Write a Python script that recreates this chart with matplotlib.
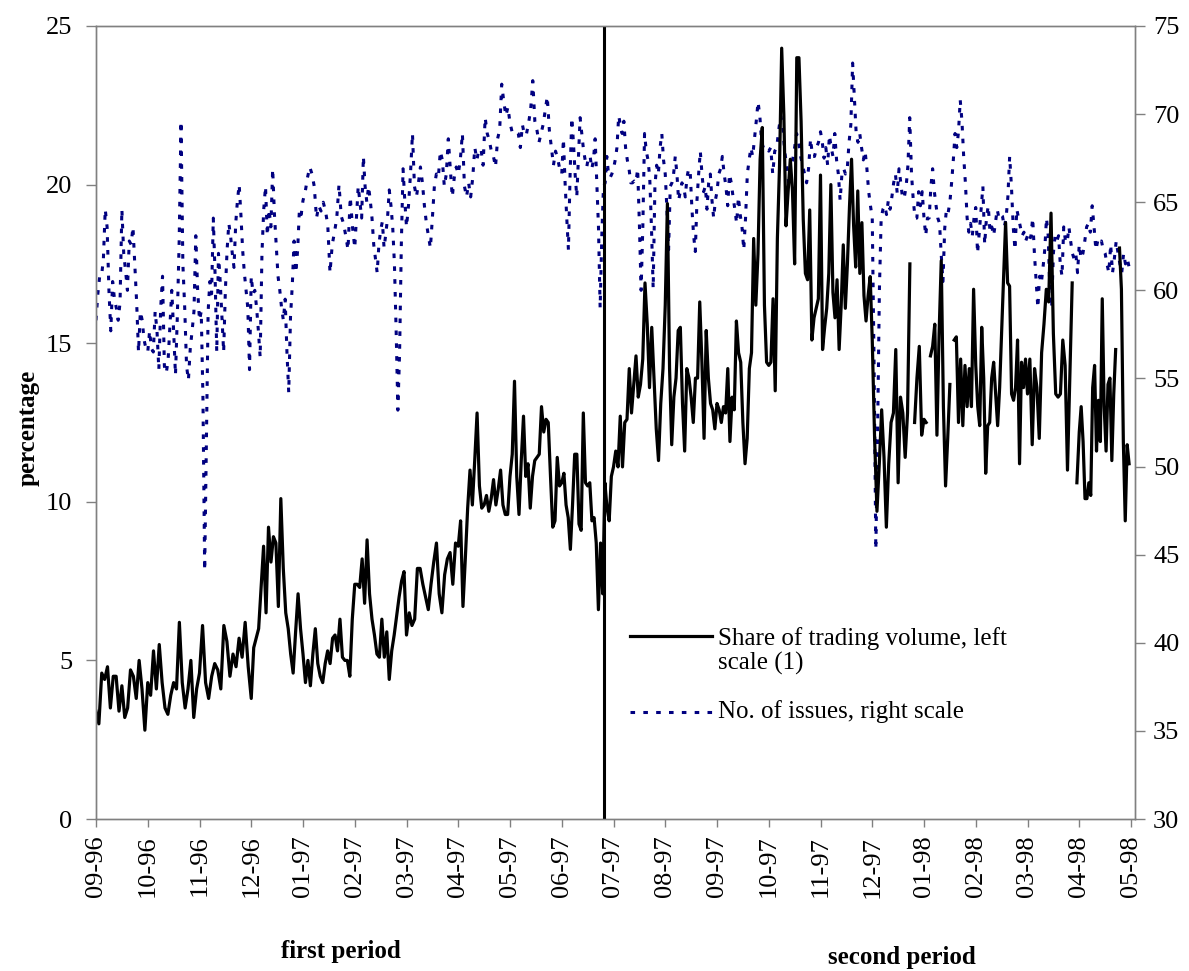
import numpy as np
import matplotlib
matplotlib.use('Agg')
import matplotlib.pyplot as plt
from matplotlib.lines import Line2D

nan = float('nan')

month_labels = ['09-96', '10-96', '11-96', '12-96', '01-97', '02-97', '03-97',
                '04-97', '05-97', '06-97', '07-97', '08-97', '09-97', '10-97',
                '11-97', '12-97', '01-98', '02-98', '03-98', '04-98', '05-98']

# share of trading volume (%, left scale), one list of observations per month
share_by_month = [
    [3.4, 3.0, 4.6, 4.4, 4.8, 3.5, 4.5, 4.5, 3.4, 4.2, 3.2, 3.5, 4.7, 4.5, 3.8, 5.0, 4.1, 2.8],
    [4.3, 3.9, 5.3, 4.1, 5.5, 4.3, 3.5, 3.3, 3.9, 4.3, 4.1, 6.2, 4.3, 3.5, 4.1, 5.0, 3.2, 4.1],
    [4.6, 6.1, 4.3, 3.8, 4.5, 4.9, 4.7, 4.1, 6.1, 5.6, 4.5, 5.2, 4.8, 5.7, 5.1, 6.2, 4.8],
    [3.8, 5.4, 5.7, 6.0, 7.3, 8.6, 6.5, 9.2, 8.1, 8.9, 8.7, 6.7, 10.1, 7.9, 6.5, 6.0, 5.2,
     4.6, 5.9, 7.1, 6.0],
    [5.2, 4.3, 5.0, 4.2, 5.2, 6.0, 4.9, 4.5, 4.3, 4.9, 5.3, 4.9, 5.7, 5.8, 5.3, 6.3, 5.1,
     5.0, 5.0, 4.5, 6.3],
    [7.4, 7.4, 7.3, 8.2, 6.8, 8.8, 7.1, 6.3, 5.8, 5.2, 5.1, 6.3, 5.1, 5.9, 4.4, 5.3, 5.8,
     6.4, 7.0, 7.5, 7.8],
    [5.8, 6.5, 6.1, 6.3, 7.9, 7.9, 7.4, 7.0, 6.6, 7.4, 8.1, 8.7, 7.1, 6.5, 7.7, 8.2, 8.4,
     7.4, 8.7],
    [8.6, 9.4, 6.7, 8.2, 9.8, 11.0, 9.9, 11.3, 12.8, 10.5, 9.8, 9.9, 10.2, 9.7, 10.1, 10.7,
     9.9, 10.4, 11.0, 9.9, 9.6, 9.6],
    [10.8, 11.5, 13.8, 10.8, 9.6, 11.3, 12.7, 10.8, 11.2, 9.8, 10.8, 11.3, 11.4, 11.5, 13.0,
     12.2, 12.6, 12.5, 10.8, 9.2, 9.4, 11.4, 10.5],
    [10.6, 10.9, 9.9, 9.5, 8.5, 9.9, 11.5, 11.5, 9.3, 9.1, 12.8, 10.6, 10.5, 10.6, 9.4, 9.5,
     8.7, 6.6, 8.7, 7.1, 10.6, 9.8, 9.4, 10.8],
    [11.1, 11.6, 11.1, 12.7, 11.1, 12.5, 12.6, 14.2, 12.8, 13.7, 14.6, 13.3, 13.7, 14.5, 16.9,
     15.6, 13.6, 15.5, 13.9, 12.3, 11.3, 13.1, 14.2],
    [16.2, 19.4, 14.2, 11.8, 13.3, 13.9, 15.4, 15.5, 13.1, 11.6, 14.2, 13.9, 13.3, 12.5, 13.9,
     13.9, 16.3, 14.4, 12.0, 15.4, 13.9, 13.1, 12.9, 12.3],
    [13.1, 12.9, 12.5, 13.0, 12.8, 14.2, 11.9, 13.3, 12.9, 15.7, 14.7, 14.4, 12.5, 11.2, 12.0,
     14.2, 14.7, 18.3, 16.2, 17.8, 20.8, 21.8, 16.2, 14.4],
    [14.3, 14.4, 16.4, 13.5, 18.3, 20.6, 24.3, 22.2, 18.7, 19.8, 20.8, 19.8, 17.5, 24.0, 24.0,
     22.0, 18.9, 17.2, 17.0, 19.2, 15.1, 15.8, 16.1, 16.4],
    [20.3, 14.8, 15.5, 16.1, 17.2, 20.0, 16.6, 15.8, 17.0, 14.8, 16.2, 18.1, 16.1, 17.5, 19.3,
     20.8, 18.7, 17.4, 19.8, 17.2, 18.8, 16.5, 15.7, 16.5, 17.1],
    [15.1, 12.0, 9.7, 11.2, 12.9, 11.4, 9.2, 11.2, 12.5, 12.8, 14.8, 10.6, 13.3, 12.8, 11.4,
     12.8, 17.5, nan, 12.5, 13.9, 14.9, 12.1],
    [12.6, 12.5, nan, 14.6, 14.9, 15.6, 12.1, 15.3, 17.6, 13.0, 10.5, 12.0, 13.7, nan, 15.1,
     15.2, 12.5, 14.5, 12.4, 14.3, 13.0, 14.2, 13.0, 16.7],
    [14.3, 13.0, 12.4, 15.5, 13.9, 10.9, 12.4, 12.5, 13.9, 14.4, 13.4, 12.4, 13.6, 15.4, 17.1,
     18.8, 16.9, 16.8, 13.4, 13.2, 13.6, 15.1, 11.2, 14.4, 13.6, 14.5],
    [13.4, 14.5, 11.8, 14.2, 13.6, 12.0, 14.7, 15.6, 16.7, 16.3, 19.1, 15.3, 13.4, 13.3, 13.4,
     15.1, 14.3, 11.0, 14.0, 16.9, nan, 10.6],
    [12.2, 13.0, 11.9, 10.1, 10.1, 10.6, 10.2, 13.6, 14.3, 11.6, 13.2, 11.9, 16.4, 13.0, 11.6,
     13.7, 13.9, 11.3, 13.4, 14.8, nan, 18.0, 16.7, 11.9, 9.4, 11.8, 11.2],
]

# number of issues (right scale), one list of observations per month
issues_by_month = [
    [58.3, 59.8, 60.8, 60.8, 61.8, 64.6, 63.6, 60.0, 57.7, 60.5, 59.5, 59.0, 58.3, 59.3, 64.6,
     62.1, 61.1, 60.0, 62.8, 62.6, 63.6, 61.5, 59.3, 56.5, 58.8, 58.3, 57.2, 56.7],
    [56.5, 57.7, 56.7, 56.5, 58.8, 57.7, 55.5, 59.0, 60.8, 55.7, 55.3, 56.0, 58.0, 60.0, 57.7,
     55.2, 58.5, 62.8, 69.6, 61.5, 59.0, 55.7, 54.9, 56.7, 57.7, 58.8, 63.1, 60.0],
    [58.3, 58.8, 53.9, 44.1, 51.4, 58.8, 60.5, 59.8, 64.1, 61.0, 56.5, 62.1, 60.5, 58.5, 56.5,
     60.0, 62.3, 63.8, 63.1, 62.1, 61.3, 63.8, 65.1, 66.0, 64.3, 62.3, 61.0, 60.0, 59.0, 55.5],
    [60.8, 59.8, 60.0, 59.0, 57.7, 56.2, 62.1, 64.6, 65.9, 63.1, 64.6, 63.6, 66.9, 64.3, 62.6,
     60.8, 60.0, 59.0, 58.3, 59.5, 56.5, 54.2, 58.5, 60.3, 62.8, 61.0, 62.3, 64.6, 64.3],
    [65.1, 65.6, 66.4, 67.0, 66.6, 65.9, 64.1, 64.8, 64.5, 65.0, 64.5, 63.7, 61.0, 62.6, 63.3,
     64.1, 66.0, 64.2, 63.8, 63.1, 62.3, 65.3, 63.6],
    [62.4, 64.2, 65.9, 65.0, 64.1, 67.6, 65.9, 65.0, 65.9, 65.1, 64.1, 62.6, 61.8, 61.0, 62.6,
     63.4, 63.9, 62.4, 63.2, 64.1, 65.7, 64.8, 63.6, 61.5, 57.7, 53.2, 56.5, 62.6, 66.9, 65.1],
    [63.6, 64.8, 66.6, 68.9, 65.9, 65.3, 66.1, 67.0, 66.1, 64.8, 63.8, 63.1, 62.4, 64.1, 65.9,
     66.6, 66.4, 67.9, 67.4, 65.9, 66.6, 68.6, 66.9, 65.3, 66.4, 67.0],
    [66.6, 67.4, 68.9, 65.9, 65.3, 66.1, 65.3, 66.4, 68.1, 67.4, 68.0, 68.0, 67.1, 69.8, 68.9,
     68.5, 67.9, 67.6, 67.0, 68.6, 69.1, 71.7, 70.7, 69.9, 70.4],
    [69.5, 69.0, 68.9, 69.0, 68.9, 68.1, 69.4, 68.8, 68.9, 69.5, 70.3, 71.9, 69.6, 69.1, 68.4,
     68.9, 69.4, 70.2, 71.0, 69.1, 68.1, 67.1, 67.9, 67.5, 66.9],
    [66.6, 68.6, 66.1, 64.1, 62.3, 66.6, 69.8, 68.4, 66.6, 65.3, 67.6, 69.8, 68.9, 68.0, 67.4,
     67.0, 67.6, 67.6, 66.9, 67.4, 68.6, 66.1, 63.6, 59.0, 63.1, 65.9, 66.1, 67.6, 66.6, 66.4,
     66.6],
    [66.9, 67.4, 68.1, 69.9, 69.4, 68.9, 69.6, 68.1, 67.4, 66.9, 66.1, 66.1, 66.2, 66.1, 66.9,
     63.8, 60.0, 63.6, 68.9, 67.9, 67.4, 66.4, 63.6, 60.1, 65.9, 67.1, 66.6, 68.1, 68.9, 67.4],
    [66.6, 64.6, 62.3, 65.9, 66.1, 66.6, 67.6, 66.6, 65.1, 65.6, 66.1, 65.9, 65.3, 66.4, 66.9,
     66.6, 64.6, 63.1, 62.2, 65.1, 66.6, 67.9, 66.6, 65.6, 65.9, 64.6, 66.1, 66.6, 65.1, 64.1,
     65.1],
    [65.6, 66.6, 66.9, 67.6, 66.6, 65.9, 64.8, 66.6, 66.1, 65.3, 64.6, 63.8, 65.3, 64.3, 63.6,
     62.3, 64.1, 66.6, 67.4, 68.1, 67.6, 68.6, 69.6, 70.7, 69.9, 68.4, 68.1, 67.9, 68.0],
    [67.9, 68.1, 66.6, 67.9, 68.1, 69.1, 69.9, 69.4, 67.9, 67.1, 66.1, 66.9, 67.4, 68.1, 68.9,
     68.4, 67.6, 67.1, 66.6, 66.1, 66.9, 68.6, 67.6, 67.6, 68.1, 68.4],
    [69.0, 68.4, 67.5, 68.1, 67.1, 68.8, 68.1, 67.6, 68.9, 67.4, 66.6, 65.1, 66.6, 66.9, 66.6,
     66.9, 68.4, 69.4, 72.9, 70.9, 68.9, 68.4, 68.9, 68.1, 67.4, 67.9, 66.9, 65.6, 64.8],
    [64.1, 56.0, 45.3, 52.0, 60.0, 64.1, 64.6, 64.8, 64.3, 65.1, 64.6, 65.3, 66.1, 66.6, 65.5,
     66.9, 66.1, 65.2, 65.3, 65.9, 67.1, 69.8, 66.6, 65.1, 64.1, 64.1, 65.6, 64.8, 65.6],
    [64.1, 63.1, 64.1, 64.1, 65.9, 66.9, 65.6, 64.8, 64.1, 63.8, 62.0, 60.5, 63.5, 64.6, 64.4,
     65.0, 66.1, 67.4, 68.9, 68.1, 69.0, 70.8, 69.6, 67.6, 66.1, 64.1, 63.3, 63.8, 63.1, 64.1],
    [64.7, 62.1, 63.3, 64.6, 65.9, 62.6, 64.1, 64.8, 63.3, 63.6, 63.1, 63.8, 64.6, 64.1, 64.3,
     64.2, 63.6, 64.1, 65.3, 67.6, 65.9, 63.6, 62.3, 64.6, 64.1, 63.6, 63.1, 63.3, 62.8],
    [63.1, 62.8, 63.1, 64.1, 62.1, 60.5, 59.0, 60.8, 60.4, 61.3, 62.3, 64.1, 63.1, 59.8, 59.0,
     62.1, 63.1, 62.8, 63.1, 61.5, 60.8, 63.6, 62.8, 62.7, 63.6, 62.8, 62.1, 61.8, 62.1, 61.0],
    [62.6, 61.8, 62.1, 62.8, 63.6, 63.8, 63.3, 64.8, 63.6, 62.3, 62.8, 62.6, 62.8, 62.3, 62.1,
     61.5, 61.0, 62.6, 61.0, 61.8, 62.8, 62.1, 61.5, 61.0, 62.1, 61.5, 61.8, 61.3],
]

split_month = 9.82  # end of first period, late June 1997


def by_month(groups):
    # observations are spread evenly inside their month
    x, y = [], []
    for m, vals in enumerate(groups):
        x.extend(m + np.arange(len(vals)) / len(vals))
        y.extend(vals)
    return np.array(x), np.array(y)


x_share, share = by_month(share_by_month)
x_issues, issues = by_month(issues_by_month)

plt.rcParams['font.family'] = ['Liberation Serif', 'DejaVu Serif']
W, H = 1189, 971
fig = plt.figure(figsize=(W / 100, H / 100), dpi=100)
ax = fig.add_axes([96 / W, 1 - 819 / H, 1039 / W, 793 / H])
ax2 = ax.twinx()
ax.set_zorder(ax2.get_zorder() + 1)
ax.patch.set_visible(False)

navy = '#000080'
dots = (0, (1.5, 2.7))
ax2.plot(x_issues, issues, color=navy, lw=2.2, linestyle=dots)
ax.plot(x_share, share, color='black', lw=2.3)
ax.axvline(split_month, color='black', lw=2.2)

ax.set_xlim(0, 1039 / 51.75)
ax.set_ylim(0, 25)
ax.set_yticks(range(0, 26, 5))
ax2.set_ylim(30, 75)
ax2.set_yticks(range(30, 76, 5))
ax.set_xticks(range(len(month_labels)))
ax.set_xticklabels(month_labels, rotation=90)

grey = '#808080'
for a in (ax, ax2):
    for s in a.spines.values():
        s.set_color(grey)
        s.set_linewidth(1.0)
ax.tick_params(axis='y', direction='out', length=7, width=1, color=grey, labelsize=19, pad=10)
ax.tick_params(axis='x', direction='out', length=6, width=1, color=grey, labelsize=19, pad=6)
ax2.tick_params(axis='y', direction='out', length=7, width=1, color=grey, labelsize=19, pad=6)

fig.text(28 / W, 1 - 428 / H, 'percentage', rotation=90, ha='center', va='center',
         fontsize=18, fontweight='bold')
fig.text(341 / W, 1 - 951 / H, 'first period', ha='center', va='center',
         fontsize=18, fontweight='bold')
fig.text(902 / W, 1 - 957 / H, 'second period', ha='center', va='center',
         fontsize=18, fontweight='bold')

# legend drawn by hand (no frame, sample aligned with first text line)
fig.add_artist(Line2D([630 / W, 712 / W], [1 - 636 / H] * 2, color='black', lw=2.3))
fig.add_artist(Line2D([630 / W, 712 / W], [1 - 712 / H] * 2, color=navy, lw=2.2,
                      linestyle=dots))
fig.text(718 / W, 1 - 651 / H, 'Share of trading volume, left\nscale (1)', ha='left',
         va='center', fontsize=18, linespacing=1.15)
fig.text(718 / W, 1 - 712 / H, 'No. of issues, right scale', ha='left', va='center',
         fontsize=18)

fig.savefig('out.png', dpi=100)
